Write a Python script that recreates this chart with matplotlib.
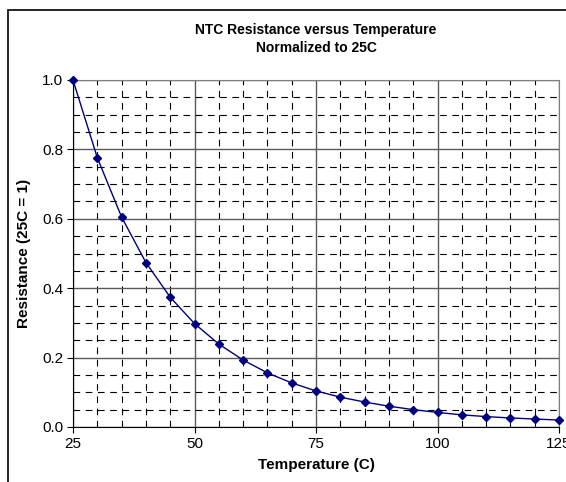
import numpy as np
import matplotlib.pyplot as plt
from matplotlib.patches import Rectangle
from matplotlib.ticker import MultipleLocator

plt.rcParams['font.family'] = ['Liberation Sans', 'DejaVu Sans']

temperature = [25, 30, 35, 40, 45, 50, 55, 60, 65, 70, 75,
               80, 85, 90, 95, 100, 105, 110, 115, 120, 125]
resistance = [1.0, 0.776, 0.605, 0.474, 0.374, 0.298, 0.239, 0.193, 0.156, 0.127, 0.104,
              0.086, 0.072, 0.060, 0.050, 0.042, 0.035, 0.030, 0.026, 0.023, 0.020]

fig = plt.figure(figsize=(5.66, 4.82), dpi=100)
ax = fig.add_axes([73 / 566, 1 - 427 / 482, (559 - 73) / 566, (427 - 80) / 482])

# border around the chart area
fig.patches.append(Rectangle((8 / 566, -0.05), 1.0, 1.05 - 10 / 482,
                             transform=fig.transFigure, fill=False,
                             edgecolor='black', linewidth=1.2))

ax.set_xlim(25, 125)
ax.set_ylim(0, 1.0)
ax.xaxis.set_major_locator(MultipleLocator(25))
ax.yaxis.set_major_locator(MultipleLocator(0.2))
ax.xaxis.set_minor_locator(MultipleLocator(5))
ax.yaxis.set_minor_locator(MultipleLocator(0.05))
ax.yaxis.set_major_formatter(plt.FormatStrFormatter('%.1f'))

ax.grid(which='minor', color='black', linestyle=(0, (6, 5)), linewidth=0.8)
ax.grid(which='major', color='#5a5a5a', linestyle='-', linewidth=1.0)
ax.set_axisbelow(True)

ax.plot(temperature, resistance, color='#000080', linewidth=1.0,
        marker='D', markersize=4.5, clip_on=False, zorder=5)

for side in ['top', 'right']:
    ax.spines[side].set_color('#808080')
for side in ['left', 'bottom']:
    ax.spines[side].set_color('black')

ax.tick_params(which='major', direction='out', length=4, labelsize=11, pad=3)
ax.tick_params(which='minor', length=0)

ax.set_xlabel('Temperature (C)', fontsize=11, fontweight='bold', labelpad=5)
ax.set_ylabel('Resistance (25C = 1)', fontsize=11, fontweight='bold', labelpad=8)
ax.set_title('NTC Resistance versus Temperature\nNormalized to 25C',
             fontsize=10, fontweight='bold', pad=20, linespacing=1.4)

fig.savefig('out.png', dpi=100)
